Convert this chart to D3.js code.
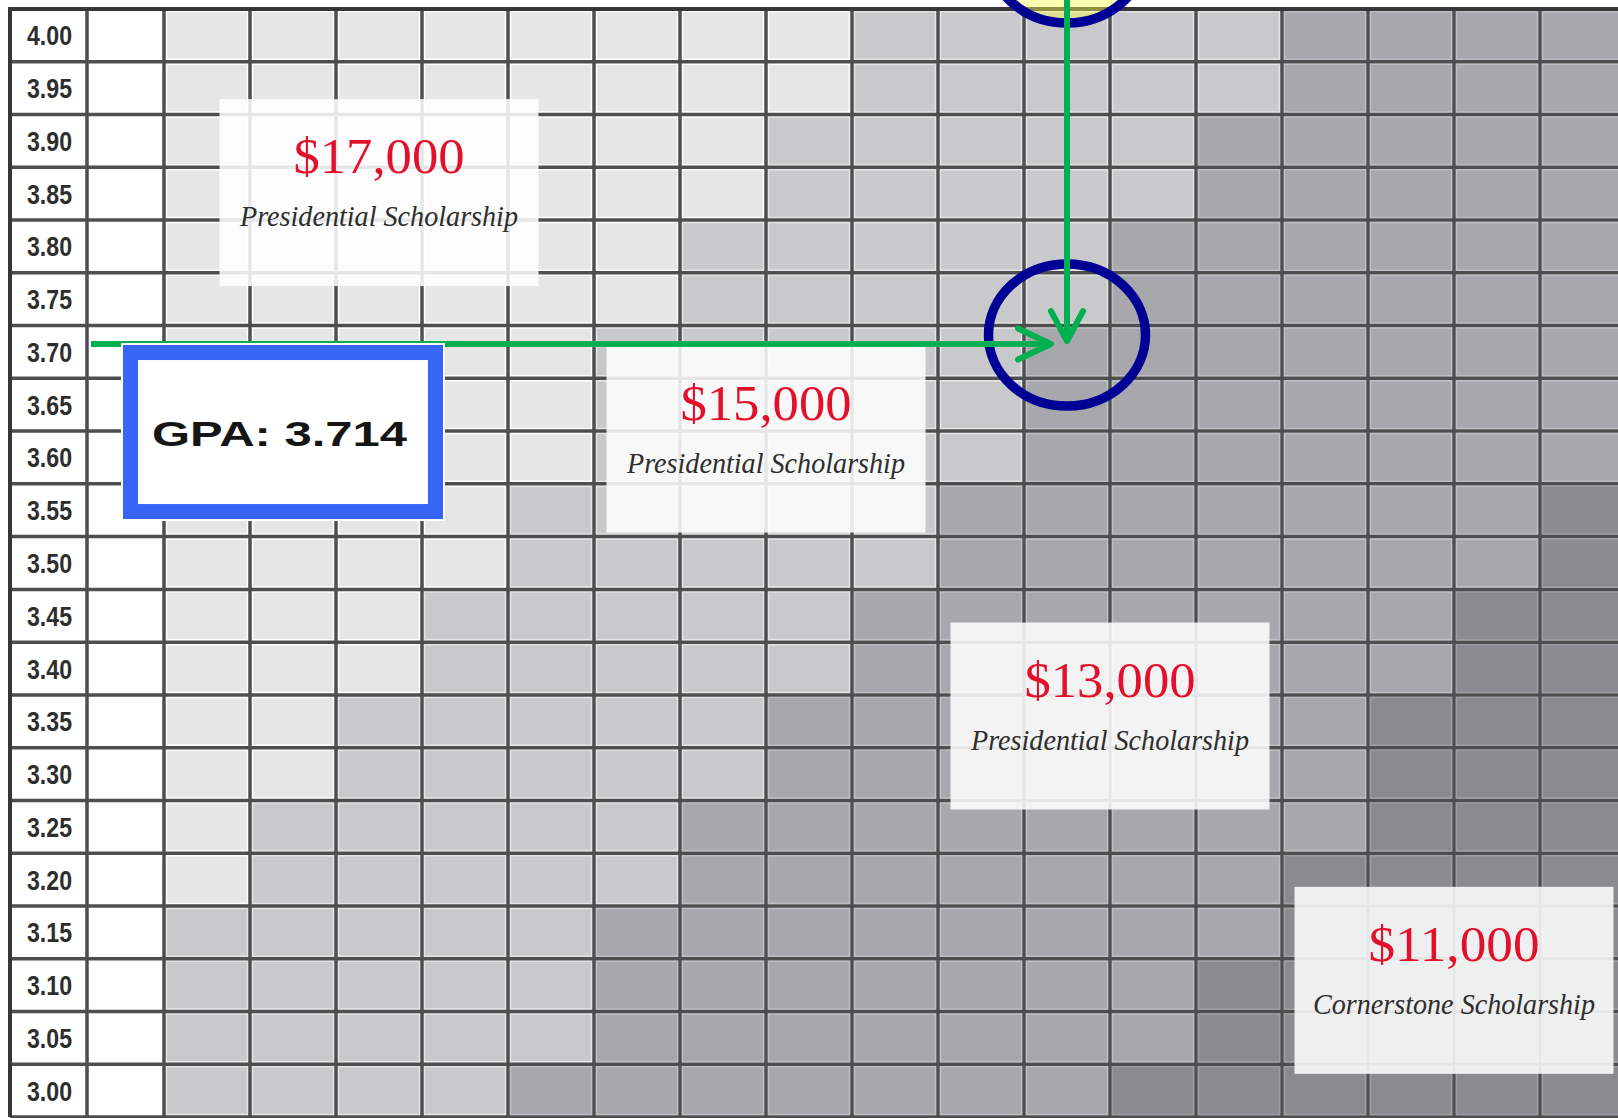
<!DOCTYPE html>
<html>
<head>
<meta charset="utf-8">
<script src="https://cdn.jsdelivr.net/npm/d3@7"></script>
<style>
	body { margin: 0; background: #fff; }
	svg { display: block; }
</style>
</head>
<body>
<div id="grid"></div>
<script>
// GPA rows, top to bottom
var gpa_labels = ['4.00', '3.95', '3.90', '3.85', '3.80', '3.75', '3.70', '3.65', '3.60', '3.55',
	'3.50', '3.45', '3.40', '3.35', '3.30', '3.25', '3.20', '3.15', '3.10', '3.05', '3.00'];

// 17 test score columns (headers are cut off in the picture)
var score_cols = d3.range(17);

// award tiers
var award_amounts = ['$17,000', '$15,000', '$13,000', '$11,000'];
var award_names   = ['Presidential Scholarship', 'Presidential Scholarship',
	'Presidential Scholarship', 'Cornerstone Scholarship'];

// first score column of each lower tier, per GPA row (17 = tier not reached)
var start_15k = [8, 8, 7, 7, 6, 6, 5, 5, 5, 4, 4, 3, 3, 2, 2, 1, 1, 0, 0, 0, 0];
var start_13k = [13, 13, 12, 12, 11, 11, 10, 10, 10, 9, 9, 8, 8, 7, 7, 6, 6, 5, 5, 5, 4];
var start_11k = [17, 17, 17, 17, 17, 17, 17, 17, 17, 16, 16, 15, 15, 14, 14, 14, 13, 13, 12, 12, 11];

// student example
var student_gpa = '3.714';
var student_row = '3.70';
var student_col = 10;


var width  = 1618;
var height = 1118;

var label_left  = 10;
var label_right = 87;
var blank_right = 164;
var col_step    = 86;

var x_scale = d3.scaleBand()
				.domain(score_cols)
				.range([blank_right, blank_right + col_step * score_cols.length]);

var y_scale = d3.scaleBand()
				.domain(gpa_labels)
				.range([9, 1117]);

var shade = d3.scaleOrdinal()
			.domain([0, 1, 2, 3])
			.range(['#e6e6e6', '#c8c9cb', '#a7a8ab', '#8a8b8e']);

function tier(r, c) {
	if (c >= start_11k[r]) return 3;
	if (c >= start_13k[r]) return 2;
	if (c >= start_15k[r]) return 1;
	return 0;
}

// grid units -> pixels
function gx(col) { return x_scale.range()[0] + col * x_scale.step(); }
function gy(row) { return y_scale.range()[0] + row * y_scale.step(); }


var svg = d3.select('#grid')
			.append('svg')
			.attr('width', width)
			.attr('height', height);

// Cells
var cells = [];
gpa_labels.forEach(function(g, r) {
	score_cols.forEach(function(c) {
		cells.push({ gpa: g, col: c, tier: tier(r, c) });
	});
});

svg.append('g')
   .selectAll('rect')
   .data(cells)
   .enter()
   .append('rect')
   .attr('x', function(d) { return x_scale(d.col) + 2.5; })
   .attr('y', function(d) { return y_scale(d.gpa) + 2.5; })
   .attr('width', x_scale.bandwidth() - 5)
   .attr('height', y_scale.bandwidth() - 5)
   .attr('fill', function(d) { return shade(d.tier); })
   .attr('stroke', function(d) { return d3.color(shade(d.tier)).brighter(0.35); })
   .attr('stroke-width', 1.5);

// Grid lines
var v_lines = [label_right, blank_right].concat(score_cols.map(function(c) {
	return x_scale(c) + x_scale.bandwidth();
}));
var h_lines = gpa_labels.map(function(g) { return y_scale(g); }).slice(1)
			.concat([y_scale.range()[1]]);

svg.append('g')
   .selectAll('line')
   .data(v_lines)
   .enter()
   .append('line')
   .attr('x1', function(d) { return d; })
   .attr('x2', function(d) { return d; })
   .attr('y1', y_scale.range()[0])
   .attr('y2', y_scale.range()[1])
   .attr('stroke', '#4e4e4e')
   .attr('stroke-width', 3.5);

svg.append('g')
   .selectAll('line')
   .data(h_lines)
   .enter()
   .append('line')
   .attr('x1', label_left)
   .attr('x2', width)
   .attr('y1', function(d) { return d; })
   .attr('y2', function(d) { return d; })
   .attr('stroke', '#4e4e4e')
   .attr('stroke-width', 3.5);

// outer border, top and left
svg.append('path')
   .attr('d', 'M' + width + ',' + y_scale.range()[0] + 'H' + label_left + 'V' + y_scale.range()[1])
   .attr('fill', 'none')
   .attr('stroke', '#363636')
   .attr('stroke-width', 4);

// GPA labels
svg.append('g')
   .selectAll('text')
   .data(gpa_labels)
   .enter()
   .append('text')
   .attr('x', (label_left + label_right) / 2 + 1)
   .attr('y', function(d) { return y_scale(d) + y_scale.bandwidth() / 2 + 10; })
   .attr('text-anchor', 'middle')
   .attr('textLength', 45)
   .attr('lengthAdjust', 'spacingAndGlyphs')
   .attr('font-family', "'Liberation Sans Narrow', 'Liberation Sans', Arial, sans-serif")
   .attr('font-weight', 'bold')
   .attr('font-size', 27)
   .attr('fill', '#2e2e2e')
   .text(function(d) { return d; });

// top circle (header cell, mostly off picture)
var cx = x_scale(student_col) + x_scale.bandwidth() / 2;
svg.append('ellipse')
   .attr('cx', cx)
   .attr('cy', -48)
   .attr('rx', 78.5)
   .attr('ry', 71)
   .attr('fill', '#ffff55')
   .attr('fill-opacity', 0.45)
   .attr('stroke', '#000094')
   .attr('stroke-width', 9.5);

// Award boxes
var box_pos = [[2.5, 3.48], [7, 8.15], [11, 13.4], [15, 18.41]];
var box_w = 319, box_h = 187;

var boxes = svg.append('g')
			.selectAll('g')
			.data(award_amounts)
			.enter()
			.append('g')
			.attr('transform', function(d, i) {
				return 'translate(' + (gx(box_pos[i][0]) - box_w / 2) + ',' + (gy(box_pos[i][1]) - box_h / 2) + ')';
			});

boxes.append('rect')
	 .attr('width', box_w)
	 .attr('height', box_h)
	 .attr('fill', '#ffffff')
	 .attr('fill-opacity', 0.86);

boxes.append('text')
	 .attr('x', box_w / 2)
	 .attr('y', 74)
	 .attr('text-anchor', 'middle')
	 .attr('textLength', 171)
	 .attr('lengthAdjust', 'spacingAndGlyphs')
	 .attr('font-family', "'Liberation Serif', 'DejaVu Serif', serif")
	 .attr('font-size', 50)
	 .attr('fill', '#e3102b')
	 .text(function(d) { return d; });

boxes.append('text')
	 .attr('x', box_w / 2)
	 .attr('y', 127)
	 .attr('text-anchor', 'middle')
	 .attr('textLength', function(d, i) { return award_names[i] === 'Cornerstone Scholarship' ? 282 : 278; })
	 .attr('lengthAdjust', 'spacingAndGlyphs')
	 .attr('font-family', "'Liberation Serif', 'DejaVu Serif', serif")
	 .attr('font-style', 'italic')
	 .attr('font-size', 30)
	 .attr('fill', '#2e2e2e')
	 .text(function(d, i) { return award_names[i]; });

// Student lookup: arrows and circle
var arrow_y = y_scale(student_row) + y_scale.bandwidth() * 0.35;

svg.append('ellipse')
   .attr('cx', cx)
   .attr('cy', arrow_y - 9)
   .attr('rx', 78.5)
   .attr('ry', 71)
   .attr('fill', 'none')
   .attr('stroke', '#000094')
   .attr('stroke-width', 9.5);

var green = svg.append('g')
			.attr('fill', 'none')
			.attr('stroke', '#00b050')
			.attr('stroke-width', 6)
			.attr('stroke-linejoin', 'round');

var hx = cx - 16;
green.append('line')
	 .attr('x1', label_right + 4).attr('x2', hx)
	 .attr('y1', arrow_y).attr('y2', arrow_y);
green.append('path')
	 .attr('stroke-linecap', 'round')
	 .attr('d', 'M' + (hx - 33) + ',' + (arrow_y - 15.5) + 'L' + hx + ',' + arrow_y + 'L' + (hx - 33) + ',' + (arrow_y + 15.5));

var vy = arrow_y - 3;
green.append('line')
	 .attr('x1', cx).attr('x2', cx)
	 .attr('y1', -5).attr('y2', vy);
green.append('path')
	 .attr('stroke-linecap', 'round')
	 .attr('d', 'M' + (cx - 16) + ',' + (vy - 30) + 'L' + cx + ',' + vy + 'L' + (cx + 16) + ',' + (vy - 30));

// GPA callout
var call_x = label_right + 36, call_y = arrow_y + 1;
svg.append('rect')
   .attr('x', call_x - 1)
   .attr('y', call_y - 1)
   .attr('width', 322)
   .attr('height', 176)
   .attr('fill', 'none')
   .attr('stroke', '#ffffff')
   .attr('stroke-width', 2);

svg.append('rect')
   .attr('x', call_x + 7.5)
   .attr('y', call_y + 7.5)
   .attr('width', 305)
   .attr('height', 159)
   .attr('fill', '#ffffff')
   .attr('stroke', '#3864f8')
   .attr('stroke-width', 15);

svg.append('text')
   .attr('x', call_x + 29)
   .attr('y', call_y + 101)
   .attr('textLength', 255)
   .attr('lengthAdjust', 'spacingAndGlyphs')
   .attr('font-family', "'Liberation Sans', Arial, sans-serif")
   .attr('font-weight', 'bold')
   .attr('font-size', 35)
   .attr('fill', '#151515')
   .text('GPA: ' + student_gpa);
</script>
</body>
</html>
